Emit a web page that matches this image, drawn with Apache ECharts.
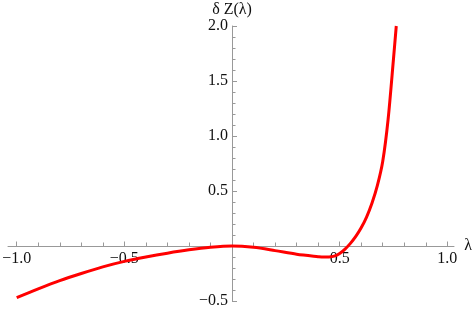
<!DOCTYPE html>
<html>
<head>
<meta charset="utf-8">
<script src="https://cdn.jsdelivr.net/npm/echarts@6/dist/echarts.min.js"></script>
<style>html,body{margin:0;padding:0;background:#fff;}#c{width:474px;height:311px;}</style>
</head>
<body>
<div id="c"></div>
<script>
const lambdaValues = [-1.0, -0.9, -0.8, -0.7, -0.6, -0.5, -0.4, -0.3, -0.2, -0.1, 0.0, 0.1, 0.2, 0.3, 0.4, 0.425, 0.45, 0.475, 0.5, 0.525, 0.55, 0.575, 0.6, 0.625, 0.65, 0.675, 0.7, 0.725, 0.75, 0.763];
const deltaZValues = [-0.47, -0.39, -0.315, -0.25, -0.19, -0.14, -0.10, -0.065, -0.035, -0.012, 0, -0.012, -0.042, -0.075, -0.097, -0.101, -0.1, -0.092, -0.068, -0.028, 0.024, 0.087, 0.165, 0.263, 0.388, 0.548, 0.768, 1.15, 1.70, 2.0];
const xTicks = [-1.0, -0.5, 0.5, 1.0];
const yTicks = [-0.5, 0.5, 1.0, 1.5, 2.0];
const xLabel = 'λ';
const yLabel = 'δ Z(λ)';

const FONT = 'Liberation Serif';
const AXIS = '#999999';
const TXT = '#111111';
const serif = {t: {fontFamily: FONT, fontSize: 16, color: TXT}};
const fmt = v => {
  const r = Math.round(v * 10) / 10;
  if (r === 0) return '';
  return '{t|' + r.toFixed(1).replace('-', '\u2212') + '}';
};
const chart = echarts.init(document.getElementById('c'), null, {renderer: 'canvas'});
const data = lambdaValues.map((x, i) => [x, deltaZValues[i]]);
const GL = 16.7, GR = 26.7, GT = 26, GB = 10;

function build(xOff, yOff) {
  return {
    animation: false,
    backgroundColor: '#fff',
    textStyle: {fontFamily: FONT},
    grid: [
      {left: GL, right: GR, top: GT, bottom: GB, outerBoundsMode: 'none', containLabel: false},
      {left: 8, right: 20, top: GT, bottom: GB, outerBoundsMode: 'none', containLabel: false}
    ],
    xAxis: [{
      type: 'value', gridIndex: 0, min: -1, max: 1, interval: 0.5, position: 'bottom', offset: xOff,
      axisLine: {show: false, onZero: false},
      axisTick: {show: true, inside: true, length: 4.5, lineStyle: {color: AXIS}},
      minorTick: {show: true, splitNumber: 5, length: 3.5, lineStyle: {color: AXIS}},
      axisLabel: {margin: 5, fontFamily: FONT, fontSize: 16, color: TXT, rich: serif,
        formatter: v => xTicks.some(t => Math.abs(t - v) < 1e-6) ? fmt(v) : ''},
      splitLine: {show: false},
      name: '{t|' + xLabel + '}', nameLocation: 'end', nameGap: 17,
      nameTextStyle: {fontFamily: FONT, fontSize: 16, color: TXT, verticalAlign: 'middle', rich: serif}
    }, {
      type: 'value', gridIndex: 1, min: -1.04, max: 1.04,
      axisLine: {show: true, onZero: true, lineStyle: {color: AXIS, width: 1}},
      axisTick: {show: false}, axisLabel: {show: false}, splitLine: {show: false}
    }],
    yAxis: [{
      type: 'value', gridIndex: 0, min: -0.5, max: 2, interval: 0.5, position: 'left', offset: yOff,
      axisLine: {show: true, onZero: false, lineStyle: {color: AXIS, width: 1}},
      axisTick: {show: true, inside: true, length: 5, lineStyle: {color: AXIS}},
      minorTick: {show: true, splitNumber: 5, length: 3.5, lineStyle: {color: AXIS}},
      axisLabel: {margin: 4, fontFamily: FONT, fontSize: 16, color: TXT, rich: serif,
        formatter: v => yTicks.some(t => Math.abs(t - v) < 1e-6) ? fmt(v) : ''},
      splitLine: {show: false},
      name: '{t|' + yLabel + '}', nameLocation: 'end', nameGap: 8,
      nameTextStyle: {fontFamily: FONT, fontSize: 16, color: TXT, align: 'center', rich: serif}
    }, {
      type: 'value', gridIndex: 1, min: -0.5, max: 2,
      axisLine: {show: false}, axisTick: {show: false}, axisLabel: {show: false}, splitLine: {show: false}
    }],
    series: [{
      type: 'line', xAxisIndex: 0, yAxisIndex: 0, data: data,
      smooth: 0.3, showSymbol: false, clip: false,
      lineStyle: {color: '#ff0000', width: 3}, z: 5
    }]
  };
}
chart.setOption(build(0, 0));
const yZero = chart.convertToPixel({yAxisIndex: 0}, 0);
const yBottom = chart.convertToPixel({yAxisIndex: 0}, -0.5);
const xZero = chart.convertToPixel({xAxisIndex: 0}, 0);
const xLeft = chart.convertToPixel({xAxisIndex: 0}, -1);
chart.setOption(build(yZero - yBottom, xLeft - xZero));
</script>
</body>
</html>
